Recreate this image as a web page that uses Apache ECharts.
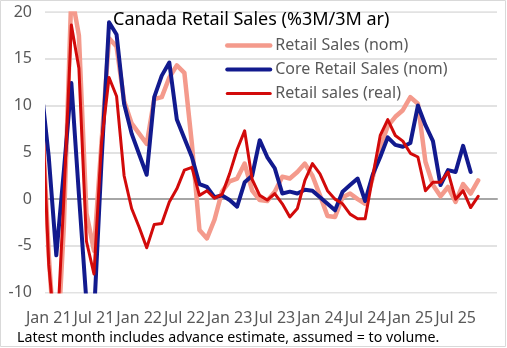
<!DOCTYPE html>
<html>
<head>
<meta charset="utf-8">
<script src="https://cdn.jsdelivr.net/npm/echarts@6/dist/echarts.min.js"></script>
<style>
  html, body { margin: 0; padding: 0; background: #fff; }
  #chart { width: 507px; height: 348px; }
</style>
</head>
<body>
<div id="chart"></div>
<script>
// Monthly periods; Dec 20 sits just left of the visible window and is clipped.
const months = [
  'Dec 20',
  'Jan 21','Feb 21','Mar 21','Apr 21','May 21','Jun 21','Jul 21','Aug 21','Sep 21','Oct 21','Nov 21','Dec 21',
  'Jan 22','Feb 22','Mar 22','Apr 22','May 22','Jun 22','Jul 22','Aug 22','Sep 22','Oct 22','Nov 22','Dec 22',
  'Jan 23','Feb 23','Mar 23','Apr 23','May 23','Jun 23','Jul 23','Aug 23','Sep 23','Oct 23','Nov 23','Dec 23',
  'Jan 24','Feb 24','Mar 24','Apr 24','May 24','Jun 24','Jul 24','Aug 24','Sep 24','Oct 24','Nov 24','Dec 24',
  'Jan 25','Feb 25','Mar 25','Apr 25','May 25','Jun 25','Jul 25','Aug 25','Sep 25','Oct 25','Nov 25','Dec 25'
];

const tickLabels = ['Jan 21','Jul 21','Jan 22','Jul 22','Jan 23','Jul 23','Jan 24','Jul 24','Jan 25','Jul 25'];

// %3M/3M annualized, Dec 20 .. Oct 25
const retailNom = [
  11,
  -6, -18, -3, 22, 17.5, -1.5, -5.5, 6, 17.2, 16.3, 10.5, 8.1,
  7.0, 5.9, 10.7, 10.9, 13.0, 14.3, 13.5, 5.9, -3.3, -4.2, -2.2, 0.8,
  1.9, 2.2, 3.8, 0.9, -0.1, -0.2, 0.8, 2.4, 2.2, 2.9, 3.8, 2.5,
  0.4, -1.8, -1.9, 0.2, 0.6, 0.0, -0.5, 2.3, 5.6, 7.8, 8.8, 9.5,
  10.9, 10.2, 4.0, 1.5, 0.3, 1.3, -0.3, 1.6, 0.6, 2.0
];

const coreNom = [
  12,
  4.5, -6, 3, 12.4, 0.5, -11, -12.5, 4, 18.9, 17.6, 10.2, 7.0,
  4.8, 2.6, 10.9, 13.2, 14.6, 8.5, 6.5, 4.5, 1.6, 1.3, 0.2, 0.4,
  -0.1, -0.8, 1.8, 2.5, 6.3, 4.5, 3.3, 0.6, 0.8, 0.6, 1.0, 0.9,
  0.2, -0.5, -1.2, 0.8, 1.5, 2.2, -0.2, 2.6, 4.5, 6.6, 5.8, 5.6,
  6.0, 10.0, 7.9, 6.2, 1.5, 3.1, 2.9, 5.7, 2.9, null
];

const retailReal = [
  12,
  -7, -16, 0, 18.6, 14.0, -4.5, -8, 6, 13.0, 11.0, 2.5, -1.0,
  -3.0, -5.2, -2.7, -2.6, -0.3, 1.1, 3.1, 3.4, 0.4, 0.9, 0.1, 0.5,
  2.7, 5.3, 7.3, 2.1, 0.4, -0.1, 0.6, -0.5, -1.9, -1.0, 2.0, 3.8,
  2.7, 0.9, 0.0, -0.5, -1.6, -2.1, -2.1, 2.4, 6.8, 8.5, 6.8, 6.2,
  4.9, 4.5, 0.9, 1.8, 1.8, 2.9, 0.0, 0.9, -0.9, 0.3
];

const seriesNames = ['Retail Sales (nom)', 'Core Retail Sales (nom)', 'Retail sales (real)'];
const seriesColors = ['#F49A8C', '#121A8E', '#D20A0A'];
const seriesWidths = [4.5, 4, 3];

const FONT = '"Noto Sans", "Open Sans", sans-serif';
const GREY_TEXT = '#595959';

const GRID = { left: 45, right: 10, top: 12, bottom: 55.3 };
const W = 507, H = 348;

const toPoints = vals => vals.map((v, i) => [i, v]);

const chart = echarts.init(document.getElementById('chart'), null, { renderer: 'canvas' });

// ECharts pads its line clip by half the stroke; these white bands trim the
// lines flush with the plot edges (left, top, bottom).
const plotRight = W - GRID.right;
const plotBottom = H - GRID.bottom;
const trimBands = [
  { x: 35, y: 1.5, width: GRID.left - 35, height: plotBottom + 12 },
  { x: GRID.left, y: 1.5, width: plotRight - GRID.left, height: GRID.top - 0.8 - 1.5 },
  { x: GRID.left, y: plotBottom + 0.8, width: plotRight - GRID.left, height: 12 }
].map(r => ({ type: 'rect', shape: r, style: { fill: '#ffffff' }, silent: true, z: 5 }));

chart.setOption({
  animation: false,
  backgroundColor: '#ffffff',
  textStyle: { fontFamily: FONT },
  grid: Object.assign({ containLabel: false }, GRID),
  xAxis: [
    {
      // numeric month axis carrying the lines; its line marks zero
      type: 'value',
      min: 0.5,
      max: months.length - 0.5,
      axisLine: { show: true, onZero: true, lineStyle: { color: '#a6a6a6', width: 2 } },
      axisTick: { show: false },
      axisLabel: { show: false },
      splitLine: { show: false }
    },
    {
      // month labels
      type: 'category',
      data: months.slice(1),
      boundaryGap: true,
      position: 'bottom',
      axisLine: { show: false },
      axisTick: { show: false },
      splitLine: { show: false },
      axisLabel: {
        interval: (idx, val) => tickLabels.includes(val),
        color: GREY_TEXT,
        fontSize: 16,
        fontFamily: FONT,
        margin: 18
      }
    }
  ],
  yAxis: {
    type: 'value',
    min: -10,
    max: 20,
    interval: 5,
    axisLine: { show: false },
    axisTick: { show: false },
    axisLabel: { color: GREY_TEXT, fontSize: 16, fontFamily: FONT, margin: 13 },
    splitLine: { lineStyle: { color: '#d9d9d9', width: 1.5 } }
  },
  legend: {
    data: seriesNames,
    orient: 'vertical',
    left: 225,
    top: 37.6,
    itemWidth: 43,
    itemHeight: 3,
    itemGap: 8,
    lineStyle: { width: 'inherit' },
    textStyle: { color: GREY_TEXT, fontSize: 16, fontFamily: FONT },
    padding: 0
  },
  series: [retailNom, coreNom, retailReal].map((vals, k) => ({
    name: seriesNames[k],
    type: 'line',
    xAxisIndex: 0,
    yAxisIndex: 0,
    data: toPoints(vals),
    symbol: 'none',
    clip: true,
    connectNulls: false,
    lineStyle: { color: seriesColors[k], width: seriesWidths[k], cap: 'round', join: 'round' },
    itemStyle: { color: seriesColors[k] },
    z: 2 + k
  })),
  graphic: trimBands.concat([
    {
      type: 'rect',
      shape: { x: 0.5, y: 0.5, width: 505, height: 346 },
      style: { fill: 'none', stroke: '#d9d9d9', lineWidth: 1 },
      silent: true,
      z: 6
    },
    {
      type: 'text',
      x: 113,
      y: 20,
      style: {
        text: 'Canada Retail Sales (%3M/3M ar)',
        fill: '#000000',
        font: '18px ' + FONT,
        textVerticalAlign: 'middle',
        verticalAlign: 'middle'
      },
      z: 10
    },
    {
      type: 'text',
      x: 17,
      y: 338,
      style: {
        text: 'Latest month includes advance estimate, assumed = to volume.',
        fill: '#000000',
        font: '14.2px ' + FONT,
        textVerticalAlign: 'middle',
        verticalAlign: 'middle'
      },
      z: 10
    }
  ])
});
</script>
</body>
</html>
